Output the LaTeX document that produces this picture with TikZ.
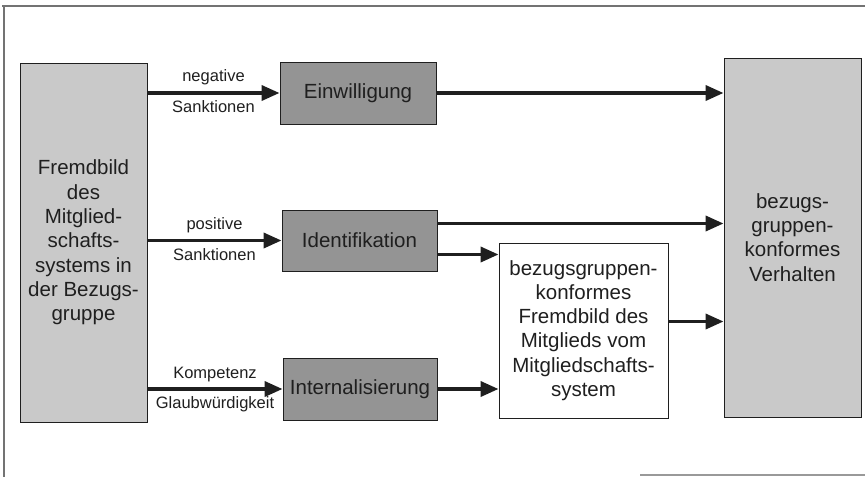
\documentclass[tikz,border=0pt]{standalone}
\usepackage{fontspec}
\setmainfont{Liberation Sans}
\usetikzlibrary{arrows.meta}

\definecolor{lightfill}{gray}{0.79}
\definecolor{darkfill}{gray}{0.58}
\definecolor{inkcol}{gray}{0.12}

\tikzset{
  box/.style={draw=inkcol, line width=0.9pt, inner sep=0pt, align=center,
    text=inkcol, font=\fontsize{20.5}{24.3}\selectfont},
  outerbox/.style={box, fill=lightfill},
  modebox/.style={box, fill=darkfill},
  plainbox/.style={box, fill=white},
  flow/.style={draw=inkcol, line width=3.6pt,
    -{Triangle[length=18pt,width=15pt]}},
  edgetext/.style={font=\fontsize{16.5}{18}\selectfont, text=inkcol, inner sep=3pt},
  frame/.style={draw=black!55, line width=1.3pt}
}

\begin{document}
\begin{tikzpicture}[x=1pt, y=-1pt]
  \useasboundingbox (0,0) rectangle (865,477);

  % page frame
  \draw[frame] (2,6) -- (865,6);
  \draw[frame] (4,6) -- (4,477);
  \draw[frame, draw=black!40] (640,475) -- (865,475);

  % boxes
  \node[outerbox, minimum width=127pt, minimum height=359pt] (fb) at (83.5,242.5)
    {Fremdbild\\des\\Mitglied-\\schafts-\\systems in\\der Bezugs-\\gruppe};
  \node[modebox, minimum width=156pt, minimum height=62pt] (ein) at (358,93) {Einwilligung};
  \node[modebox, minimum width=155pt, minimum height=61pt] (ide) at (359.5,240.5) {Identifikation};
  \node[modebox, minimum width=154pt, minimum height=62pt] (int) at (360,389) {Internalisierung};
  \node[plainbox, minimum width=169pt, minimum height=175pt] (wb) at (583.5,330.5)
    {bezugsgruppen-\\konformes\\Fremdbild des\\Mitglieds vom\\Mitgliedschafts-\\system};
  \node[outerbox, minimum width=137pt, minimum height=359pt] (vb) at (792.5,237.5)
    {bezugs-\\gruppen-\\konformes\\Verhalten};

  % connector anchors on the boxes
  \coordinate (ideUp) at ([yshift=17pt]ide.east);
  \coordinate (ideDown) at ([yshift=-14pt]ide.east);
  \coordinate (wbOut) at ([yshift=9pt]wb.east);

  % sanctions and influence arrows
  \draw[flow] (fb.east |- ein.west) -- (ein.west)
    node[edgetext, midway, above=3pt] {negative}
    node[edgetext, midway, below=3pt] {Sanktionen};
  \draw[flow] (fb.east |- ide.west) -- (ide.west)
    node[edgetext, midway, above=3pt] {positive}
    node[edgetext, midway, below=3pt] {Sanktionen};
  \draw[flow] (fb.east |- int.west) -- (int.west)
    node[edgetext, midway, above=2pt] {Kompetenz}
    node[edgetext, midway, below=3pt] {Glaubwürdigkeit};

  % outcome arrows
  \draw[flow] (ein.east) -- (vb.west |- ein.east);
  \draw[flow] (ideUp) -- (vb.west |- ideUp);
  \draw[flow] (ideDown) -- (wb.west |- ideDown);
  \draw[flow] (int.east) -- (wb.west |- int.east);
  \draw[flow] (wbOut) -- (vb.west |- wbOut);
\end{tikzpicture}
\end{document}
